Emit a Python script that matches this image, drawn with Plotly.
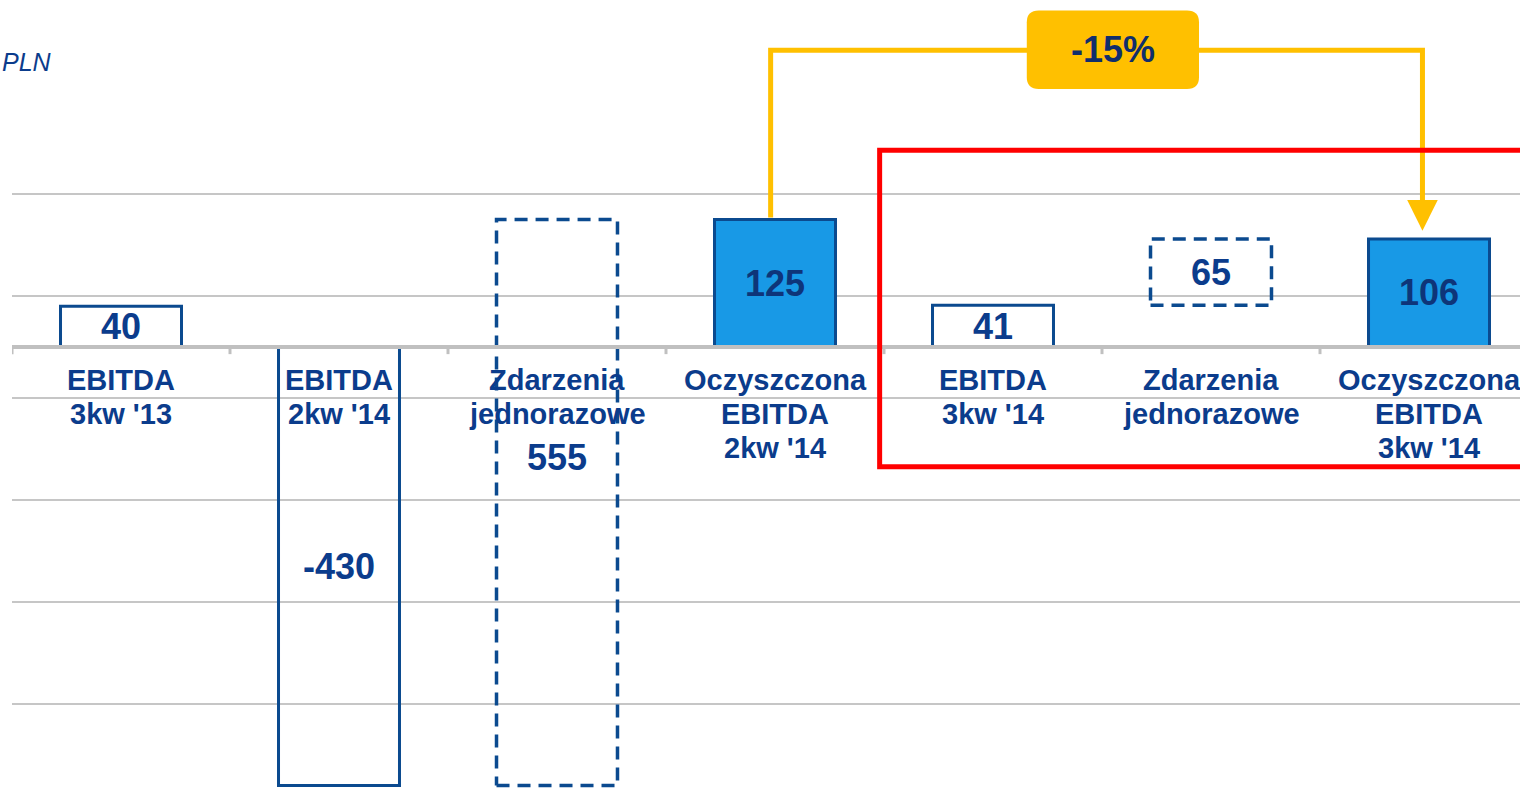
import plotly.graph_objects as go

# ---- data ----
categories = [
    ["EBITDA", "3kw '13"],
    ["EBITDA", "2kw '14"],
    ["Zdarzenia", "jednorazowe"],
    ["Oczyszczona", "EBITDA", "2kw '14"],
    ["EBITDA", "3kw '14"],
    ["Zdarzenia", "jednorazowe"],
    ["Oczyszczona", "EBITDA", "3kw '14"],
]
values = [40, -430, 555, 125, 41, 65, 106]
kinds = ["total", "total", "delta", "result", "total", "delta", "result"]
change_label = "-15%"
unit_label = "PLN"
gridline_values = [150, 50, -50, -150, -250, -350]

# ---- styles ----
NAVY = "#0B3C8C"
OUTLINE = "#0B4A8F"
FILL = "#1899E6"
YELLOW = "#FFC000"
GRID = "#C6C6C6"
FONT = "Liberation Sans, Arial, sans-serif"
BAR_W = 0.555

# bases
bases = []
running = 0
for v, k in zip(values, kinds):
    if k == "delta":
        bases.append(running)
        running += v
    else:
        bases.append(0)
        running = v

fig = go.Figure()

# outline-only bars
o_idx = [i for i, k in enumerate(kinds) if k == "total"]
fig.add_trace(go.Bar(
    x=o_idx, y=[values[i] for i in o_idx], base=[bases[i] for i in o_idx],
    width=BAR_W, marker=dict(color="rgba(255,255,255,0)", line=dict(color=OUTLINE, width=3)),
    hoverinfo="skip", showlegend=False))

# filled bars
f_idx = [i for i, k in enumerate(kinds) if k == "result"]
fig.add_trace(go.Bar(
    x=f_idx, y=[values[i] for i in f_idx], base=[bases[i] for i in f_idx],
    width=BAR_W, marker=dict(color=FILL, line=dict(color=OUTLINE, width=3)),
    hoverinfo="skip", showlegend=False))

# dashed delta boxes
for i, k in enumerate(kinds):
    if k != "delta":
        continue
    x0, x1 = i - BAR_W / 2, i + BAR_W / 2
    y0, y1 = bases[i], bases[i] + values[i]
    fig.add_trace(go.Scatter(
        x=[x0, x1, x1, x0, x0], y=[y0, y0, y1, y1, y0], mode="lines",
        line=dict(color=OUTLINE, width=3.5, dash="13px,8px"),
        hoverinfo="skip", showlegend=False))

shapes = []
# axis line + ticks (above bars)
shapes.append(dict(type="line", xref="paper", yref="y", x0=0, x1=1, y0=0, y1=0,
                   line=dict(color="#C0C0C0", width=4), layer="above"))
for k in range(len(values) + 1):
    shapes.append(dict(type="line", xref="x", yref="y", x0=k - 0.5, x1=k - 0.5, y0=0, y1=-7,
                       line=dict(color="#C0C0C0", width=3), layer="above"))

# connector between the two cleaned EBITDA bars
left_i, right_i = 3, 6
xl, xr = left_i - 0.02, right_i - 0.03
y_top = 291
shapes.append(dict(type="path", xref="x", yref="y",
                   path=f"M {xl} {values[left_i] + 2} L {xl} {y_top} L {xr} {y_top} L {xr} 140",
                   line=dict(color=YELLOW, width=5), layer="above"))
# arrow head
tip = values[right_i] + 8
aw = 0.07
shapes.append(dict(type="path", xref="x", yref="y",
                   path=f"M {xr - aw} {tip + 30} L {xr + aw} {tip + 30} L {xr} {tip} Z",
                   fillcolor=YELLOW, line=dict(color=YELLOW, width=0), layer="above"))
# rounded label box
bx0, bx1, by0, by1 = 4.155, 4.945, 253, 330
rx, ry = 0.055, 11.5
shapes.append(dict(type="path", xref="x", yref="y",
                   path=(f"M {bx0 + rx} {by1} L {bx1 - rx} {by1} Q {bx1} {by1} {bx1} {by1 - ry} "
                         f"L {bx1} {by0 + ry} Q {bx1} {by0} {bx1 - rx} {by0} "
                         f"L {bx0 + rx} {by0} Q {bx0} {by0} {bx0} {by0 + ry} "
                         f"L {bx0} {by1 - ry} Q {bx0} {by1} {bx0 + rx} {by1} Z"),
                   fillcolor=YELLOW, line=dict(color=YELLOW, width=0), layer="above"))
# red highlight frame
shapes.append(dict(type="rect", xref="x", yref="y", x0=3.48, x1=7.0, y0=-117.5, y1=193,
                   line=dict(color="#FF0000", width=5), fillcolor="rgba(0,0,0,0)", layer="above"))

annotations = []
# category labels (one annotation per line)
for i, lines in enumerate(categories):
    for j, line in enumerate(lines):
        annotations.append(dict(x=i, y=0, xref="x", yref="y", text=f"<b>{line}</b>",
                                showarrow=False, yanchor="middle", xanchor="center",
                                yshift=-(33 + 34 * j),
                                font=dict(family=FONT, size=29, color=NAVY)))
# value labels
for i, (v, b) in enumerate(zip(values, bases)):
    shift = 45 if kinds[i] == "delta" and abs(v) > 200 else 0
    annotations.append(dict(x=i, y=b + v / 2, xref="x", yref="y", text=f"<b>{v}</b>",
                            showarrow=False, yanchor="middle", xanchor="center", yshift=shift,
                            font=dict(family=FONT, size=36,
                                      color="#0E3579" if kinds[i] == "result" else NAVY)))
# change label
annotations.append(dict(x=(bx0 + bx1) / 2, y=(by0 + by1) / 2, xref="x", yref="y",
                        text=f"<b>{change_label}</b>", showarrow=False,
                        xanchor="center", yanchor="middle",
                        font=dict(family=FONT, size=36, color="#102E6C")))
# unit label
annotations.append(dict(x=0, y=1 - 62 / 802, xref="paper", yref="paper",
                        text=f"<i>{unit_label}</i>", showarrow=False,
                        xanchor="left", yanchor="middle", xshift=-12,
                        font=dict(family=FONT, size=25, color=NAVY)))

fig.update_layout(
    width=1520, height=802,
    margin=dict(l=12, r=0, t=0, b=0),
    paper_bgcolor="white", plot_bgcolor="white",
    barmode="overlay",
    xaxis=dict(range=[-0.5, -0.5 + 1508 / 218], showgrid=False, zeroline=False,
               showticklabels=False, ticks="", fixedrange=True),
    yaxis=dict(range=[-455 / 1.02, 347 / 1.02], tickvals=gridline_values, showticklabels=False,
               showgrid=True, gridcolor=GRID, gridwidth=2, zeroline=False, ticks=""),
    shapes=shapes, annotations=annotations,
)

fig.write_html("out.html", config={"displayModeBar": False},
               post_script="document.body.style.margin='0';document.body.style.overflow='hidden';")
